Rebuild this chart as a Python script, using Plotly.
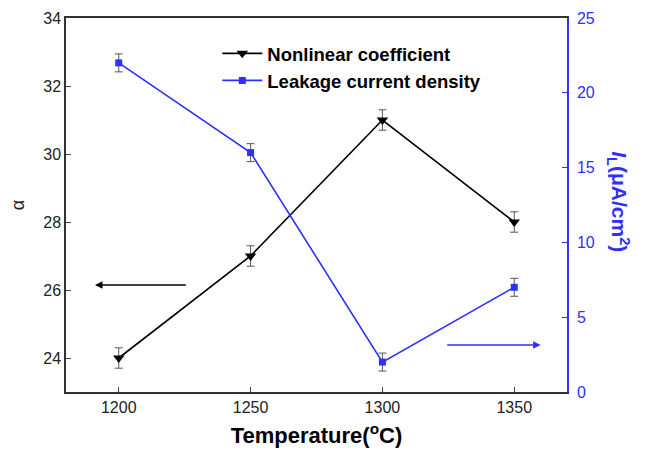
import plotly.graph_objects as go

temps = [1200, 1250, 1300, 1350]
alpha = [24.0, 27.0, 31.0, 28.0]
alpha_err = [0.3, 0.3, 0.3, 0.3]
leak = [22.0, 16.0, 2.0, 7.0]
leak_err = [0.6, 0.6, 0.6, 0.6]

BLUE = "#2f2fff"
FONT = "Liberation Sans, Arial, sans-serif"

fig = go.Figure()
fig.add_trace(go.Scatter(
    x=temps, y=alpha, mode="lines+markers", name="<b>Nonlinear coefficient</b>",
    line=dict(color="black", width=1.6),
    marker=dict(symbol="triangle-down", size=10, color="black"),
    error_y=dict(type="data", array=alpha_err, color="#555555", thickness=1, width=4),
    yaxis="y"))
fig.add_trace(go.Scatter(
    x=temps, y=leak, mode="lines+markers", name="<b>Leakage current density</b>",
    line=dict(color=BLUE, width=1.6),
    marker=dict(symbol="square", size=7, color=BLUE),
    error_y=dict(type="data", array=leak_err, color="#555555", thickness=1, width=4),
    yaxis="y2"))

fig.update_layout(
    width=645, height=450,
    margin=dict(l=66, r=78, t=18, b=58),
    paper_bgcolor="white", plot_bgcolor="white",
    font=dict(family=FONT, size=16, color="#222222"),
    showlegend=True,
    legend=dict(x=0.302, y=0.955, xanchor="left", yanchor="top",
                bgcolor="rgba(0,0,0,0)", font=dict(size=18.5, color="black"),
                itemwidth=40, tracegroupgap=0),
    xaxis=dict(range=[1180, 1370], tickvals=temps, ticks="inside", ticklen=5,
               showline=True, linecolor="#333333", linewidth=1.5, mirror=True,
               showgrid=False, zeroline=False, automargin=False,
               title=dict(text="<b>Temperature(<sup>o</sup>C)</b>", font=dict(size=22, color="black"), standoff=13)),
    yaxis=dict(range=[23, 34], tickvals=[24, 26, 28, 30, 32, 34], ticks="inside", ticklen=5,
               showline=True, linecolor="#333333", linewidth=1.5,
               showgrid=False, zeroline=False, automargin=False,
               title=dict(text="α", font=dict(size=18, color="#222222"), standoff=14)),
    yaxis2=dict(range=[0, 25], tickvals=[0, 5, 10, 15, 20, 25], ticks="inside", ticklen=5,
                overlaying="y", side="right", showline=True, linecolor=BLUE, linewidth=1.5,
                tickcolor=BLUE, tickfont=dict(color=BLUE, size=16), ticklabelstandoff=5,
                showgrid=False, zeroline=False, automargin=False),
)

fig.add_annotation(text="<b><i>I</i><sub>L</sub>(μA/cm<sup>2</sup>)</b>", xref="paper", yref="paper",
                   x=1.104, y=0.51, xanchor="center", yanchor="middle", textangle=90, showarrow=False,
                   font=dict(size=21, color=BLUE, family=FONT))

fig.add_annotation(x=1191, y=26.15, ax=1226, ay=26.15, xref="x", yref="y", axref="x", ayref="y",
                   showarrow=True, arrowhead=2, arrowsize=1, arrowwidth=1.5, arrowcolor="black", text="")
fig.add_annotation(x=1360, y=3.15, ax=1324, ay=3.15, xref="x", yref="y2", axref="x", ayref="y2",
                   showarrow=True, arrowhead=2, arrowsize=1, arrowwidth=1.5, arrowcolor=BLUE, text="")

fig.write_html("out.html")
